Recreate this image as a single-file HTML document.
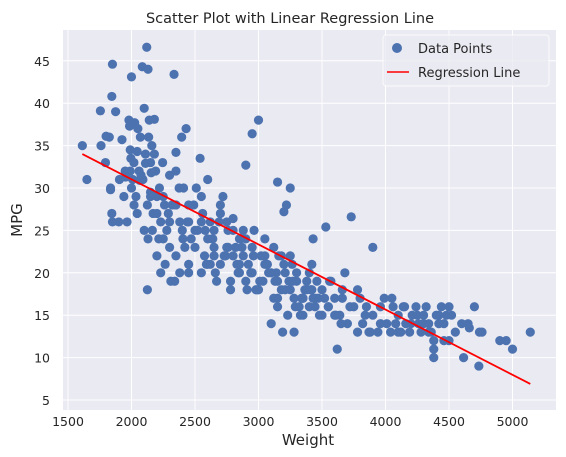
<!DOCTYPE html>
<html><head><meta charset="utf-8"><style>
body{margin:0;background:#fff;}
svg{display:block;font-family:"DejaVu Sans","Liberation Sans",sans-serif;}
</style></head><body>
<svg id="chart" width="566" height="457">
<rect x="63" y="30" width="493" height="380" fill="#eaeaf2"/>
<g id="grid"></g>
<g id="points"></g>
<g id="line"></g>
<g id="ticks"></g>
<text x="290" y="23" text-anchor="middle" font-size="14.5" fill="#262626">Scatter Plot with Linear Regression Line</text>
<text x="308" y="445" text-anchor="middle" font-size="15" fill="#262626">Weight</text>
<text x="22" y="220" text-anchor="middle" font-size="15" fill="#262626" transform="rotate(-90 22 220)">MPG</text>
<g>
<rect x="383" y="35" width="166" height="51" rx="3" fill="#eaeaf2" stroke="#ffffff" opacity="0.8"/>
<circle cx="397" cy="48" r="5" fill="#4c72b0"/>
<text x="418" y="53" font-size="13" fill="#262626">Data Points</text>
<line x1="387" y1="72" x2="409" y2="72" stroke="red" stroke-width="1.5"/>
<text x="418" y="77" font-size="13" fill="#262626">Regression Line</text>
</g>
</svg>
<script>
const weights=[
1613,1649,1755,1760,1795,1800,1825,1835,1845,1850,
1850,1845,1875,1905,1925,1940,1950,1955,1965,1985,
1990,1995,2000,2019,2020,2025,2035,2045,2050,2065,
2070,2075,2085,2100,2110,2110,2120,2125,2130,2135,
2140,2150,2155,2160,2164,2170,2180,2190,2200,2215,
2220,2230,2245,2265,2278,2290,2300,2300,2320,2335,
2350,2375,2380,2395,2405,2420,2430,2450,2470,2490,
2500,2125,2130,2000,2045,1990,2150,2200,2230,2100,
2060,1980,1900,1835,2010,2090,2180,2260,2340,2310,
2380,2410,2440,2350,
2520,2540,2560,2575,2590,2600,2620,2635,2650,2670,
2690,2700,2720,2740,2760,2780,2800,2820,2840,2860,
2880,2900,2920,2940,2950,2965,2980,3000,3020,3035,
3060,3080,3100,3120,3140,3150,3160,3180,3190,3200,
3210,3220,3240,3250,3265,3280,3300,3320,3340,3365,
3380,3400,3420,3430,3445,3460,3480,3500,2550,2600,
2640,2700,2760,2800,2850,2900,2940,2990,3050,3100,
3150,3210,3270,3330,3380,3430,2510,2580,2660,2730,
2830,2870,2910,2960,3010,3070,3130,3180,3230,3290,
3350,3410,3470,
3520,3530,3550,3570,3600,3620,3640,3660,3680,3700,
3730,3750,3780,3800,3820,3850,3870,3900,3900,3940,
3960,3990,4010,4040,4060,4080,4100,4120,4140,4160,
4190,4210,4240,4260,4280,4300,4320,4340,4360,4380,
4380,4380,4400,4420,4440,4460,4480,4500,4520,4550,
4600,4615,4650,4660,4700,4735,4740,4760,4900,4950,
5000,5140,3560,3610,3660,3720,3780,3840,3880,3960,
4050,4100,4150,4200,4250,4300,4340,4420,4460,4500,
2200,2250,2300,2350,2400,2450,2500,2550,2600,2650,
2700,2750,2800,2850,2900,2950,3000,3050,3100,3150,
3200,3250,3300,3350,3400,3450,3500,3550,3600,3650,
2450,2550,2650,2750,2850,2950,3050,3150,3250,3350,
2150,2250,2350,2450,2620,2780,2880,3120,3280,3420];
const mpgs=[
35,31,39.1,35,33,36.1,36,29.8,40.8,44.6,
26,27,39,31,35.7,29,32,31.3,26,37.3,
34.5,33.5,43.1,33,28,37.7,29,34.3,37,30.9,
36,31.5,44.3,39.4,32.9,34,46.6,28,44,36,
38,29.5,31.8,35,25,27,38.1,32,29,24,
30,26,33,21,25,27,31.5,23,28,43.4,
34.2,30,26,36,24,23,37,26,24,28,
25,18,24,30,27,32,33,22,20,25,
32,38,26,30,31,31,34,28,19,19,
20,30,26,28,
25,33.5,27,22,21,31,26,24,23,19,
26,28,29,22,25,18,26.4,23,20,24,
22,32.7,21,20,36.4,25,18,38,22,19,
21,20,14,23,20,30.7,22,18,13,27.2,
20,28,19,30,21,17,20,16,17,18,
19,20,18,17,16,19,15,18,26,21,
24,27,23,25,20,24,20,18,21,20,
17,18,19,15,18,24,30,25,20,22,
21,23,18,22,19,21,19,22,15,16,
17,18,17,
17,25.4,16,19,17,11,15,18,20,14,
26.6,16,13,17,14,16,13,23,15,13,
16,17,14,13,16,14,15,13,16,14,
13,15,16,14,13,15,16,14,13,10,
11,12,15,14,16,12,15,16,15,13,
14,10,14,13.5,16,9,13,13,12,12,
11,13,19,15,17,16,18,15,13,14,
17,13,16,14,15,14,13,15,14,12,
27,24,26,22,25,21,23,20,24,22,
21,23,22,24,19,23,18,22,20,19,
21,18,19,17,16,17,15,16,15,14,
28,29,25,26,21,20,24,16,22,15,
29,29,32,20,21,19,25,17,13,21];
const tickX=[1500,2000,2500,3000,3500,4000,4500,5000];
const tickY=[5,10,15,20,25,30,35,40,45];
const regX=[1613,5140];
const regY=[34.0,6.9];
const ns="http://www.w3.org/2000/svg";
function sx(w){return 68+(w-1500)*0.127;}
function sy(m){return 400-(m-5)*8.48;}
const grid=document.getElementById('grid'),ticks=document.getElementById('ticks');
tickX.forEach(t=>{
 const l=document.createElementNS(ns,'line');
 l.setAttribute('x1',sx(t));l.setAttribute('x2',sx(t));l.setAttribute('y1',30);l.setAttribute('y2',410);
 l.setAttribute('stroke','#fff');l.setAttribute('stroke-width','1');
 
 
 grid.appendChild(l);
 const tx=document.createElementNS(ns,'text');
 tx.setAttribute('x',sx(t));tx.setAttribute('y',426);tx.setAttribute('text-anchor','middle');
 tx.setAttribute('font-size','12.5');tx.setAttribute('fill','#262626');tx.textContent=t;
 
 
 ticks.appendChild(tx);
});
tickY.forEach(t=>{
 const l=document.createElementNS(ns,'line');
 l.setAttribute('x1',63);l.setAttribute('x2',556);l.setAttribute('y1',sy(t));l.setAttribute('y2',sy(t));
 l.setAttribute('stroke','#fff');l.setAttribute('stroke-width','1');
 
 
 grid.appendChild(l);
 const tx=document.createElementNS(ns,'text');
 tx.setAttribute('x',50);tx.setAttribute('y',sy(t)+5);tx.setAttribute('text-anchor','end');
 tx.setAttribute('font-size','12.5');tx.setAttribute('fill','#262626');tx.textContent=t;
 
 
 ticks.appendChild(tx);
});
const pts=document.getElementById('points');
const n=Math.min(weights.length,mpgs.length);
for(let i=0;i<n;i++){
 const c=document.createElementNS(ns,'circle');
 c.setAttribute('cx',sx(weights[i]));c.setAttribute('cy',sy(mpgs[i]));c.setAttribute('r',4.6);
 c.setAttribute('fill','#4c72b0');
 
 
 pts.appendChild(c);
}
const rl=document.createElementNS(ns,'line');
rl.setAttribute('x1',sx(regX[0]));rl.setAttribute('y1',sy(regY[0]));
rl.setAttribute('x2',sx(regX[1]));rl.setAttribute('y2',sy(regY[1]));
rl.setAttribute('stroke','red');rl.setAttribute('stroke-width','1.8');


document.getElementById('line').appendChild(rl);
</script>
</body></html>
